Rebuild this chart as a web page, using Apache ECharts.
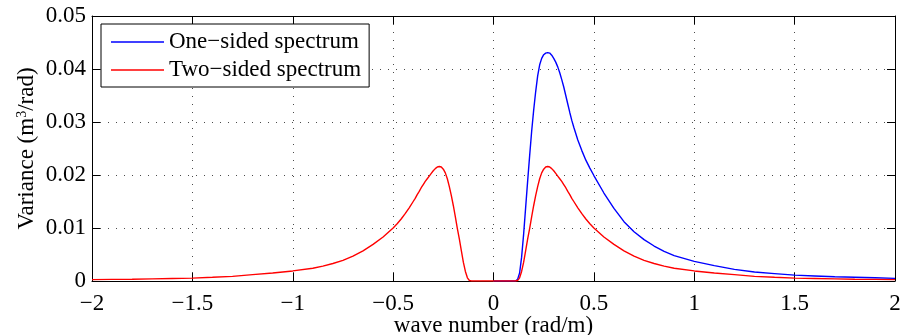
<!DOCTYPE html>
<html>
<head>
<meta charset="utf-8">
<script src="https://cdn.jsdelivr.net/npm/echarts@6/dist/echarts.min.js"></script>
<style>
  html, body { margin: 0; padding: 0; background: #fff; }
  #chart { width: 900px; height: 335px; }
</style>
</head>
<body>
<div id="chart"></div>
<script>
// Wave numbers (rad/m) for the positive half of the spectrum
const waveNumbers = [0, 0.05, 0.1,
  0.11, 0.12, 0.13, 0.14, 0.15, 0.16, 0.17, 0.18, 0.19, 0.2,
  0.21, 0.22, 0.23, 0.24, 0.25, 0.26, 0.27, 0.28, 0.29, 0.3,
  0.31, 0.32, 0.33, 0.34, 0.35, 0.36, 0.37, 0.38, 0.39, 0.4,
  0.42, 0.44, 0.46, 0.48, 0.5,
  0.55, 0.6, 0.65, 0.7, 0.75, 0.8, 0.85, 0.9,
  1.0, 1.1, 1.2, 1.3, 1.4, 1.5, 1.6, 1.7, 1.8, 1.9, 2.0];

// One-sided spectrum (m^3/rad), k >= 0
const oneSided = [0, 0, 0,
  0, 0.0003, 0.0015, 0.0045, 0.0088, 0.0138, 0.0188, 0.0236, 0.0282, 0.0322,
  0.0357, 0.0387, 0.0408, 0.0420, 0.0427, 0.0430, 0.0431, 0.0430, 0.0426, 0.0420,
  0.0413, 0.0404, 0.0393, 0.0380, 0.0366, 0.0350, 0.0334, 0.0318, 0.0303, 0.0290,
  0.0266, 0.0246, 0.0228, 0.0213, 0.0199,
  0.0166, 0.0137, 0.0112, 0.0093, 0.0078, 0.0066, 0.0056, 0.0048,
  0.0037, 0.0029, 0.0022, 0.0017, 0.0014, 0.0011, 0.00095, 0.0008, 0.0007, 0.0006, 0.0005];

// Two-sided spectrum (m^3/rad), symmetric in k; values listed for k >= 0
const twoSided = [0, 0, 0,
  0, 0.0001, 0.0006, 0.0018, 0.0035, 0.0057, 0.0079, 0.0099, 0.0121, 0.0142,
  0.0161, 0.0178, 0.0193, 0.0204, 0.0211, 0.0215, 0.0216, 0.0215, 0.0212, 0.0208,
  0.0203, 0.0198, 0.0193, 0.0188, 0.0182, 0.0176, 0.0169, 0.0163, 0.0156, 0.0150,
  0.0138, 0.0127, 0.0117, 0.0108, 0.0100,
  0.0083, 0.0069, 0.0057, 0.0047, 0.0039, 0.0033, 0.0028, 0.0024,
  0.0019, 0.0015, 0.0012, 0.00088, 0.0007, 0.00055, 0.00047, 0.0004, 0.00034, 0.0003, 0.00025];

const xTicks = { min: -2, max: 2, step: 0.5 };
const yTicks = { min: 0, max: 0.05, step: 0.01 };
const seriesNames = ['One\u2212sided spectrum', 'Two\u2212sided spectrum'];

const FONT = '"Liberation Serif", "Times New Roman", serif';
const FS = 23;

const oneSidedData = waveNumbers.map((k, i) => [k, oneSided[i]]);
const twoSidedData = [];
for (let i = waveNumbers.length - 1; i > 0; i--) twoSidedData.push([-waveNumbers[i], twoSided[i]]);
for (let i = 0; i < waveNumbers.length; i++) twoSidedData.push([waveNumbers[i], twoSided[i]]);

const fmtX = v => String(Number(v.toFixed(2))).replace('-', '\u2212');
const fmtY = v => String(Number(v.toFixed(3)));

const gridDots = { show: true, lineStyle: { color: '#4a4a4a', width: 1, type: [1, 7] } };
const boxLine = { show: true, onZero: false, lineStyle: { color: '#000', width: 1 } };
const inTick = { show: true, inside: true, length: 8, lineStyle: { color: '#000', width: 1 } };

const chart = echarts.init(document.getElementById('chart'), null, { renderer: 'canvas' });
chart.setOption({
  animation: false,
  backgroundColor: '#fff',
  grid: { left: 92, right: 5, top: 16, bottom: 54, containLabel: false, outerBoundsMode: 'none' },
  legend: {
    orient: 'vertical',
    left: 101, top: 24,
    padding: [6, 8, 5, 10],
    icon: 'rect',
    itemWidth: 53, itemHeight: 1.4, itemGap: 4,
    borderColor: '#000', borderWidth: 1,
    backgroundColor: '#fff',
    textStyle: { fontFamily: FONT, fontSize: FS, color: '#000', lineHeight: 24 },
    data: seriesNames
  },
  xAxis: [{
    type: 'value', min: xTicks.min, max: xTicks.max, interval: xTicks.step,
    name: 'wave number (rad/m)', nameLocation: 'middle', nameGap: 33, nameMoveOverlap: false,
    nameTextStyle: { fontFamily: FONT, fontSize: FS, color: '#000' },
    axisLine: boxLine, axisTick: inTick,
    axisLabel: { fontFamily: FONT, fontSize: FS, color: '#000', margin: 11, formatter: fmtX },
    splitLine: gridDots
  }, {
    type: 'value', position: 'top', min: xTicks.min, max: xTicks.max, interval: xTicks.step,
    axisLine: boxLine, axisTick: inTick, axisLabel: { show: false }, splitLine: { show: false }
  }],
  yAxis: [{
    type: 'value', min: yTicks.min, max: yTicks.max, interval: yTicks.step,
    name: 'Variance (m{sup|3}/rad)', nameLocation: 'middle', nameGap: 54, nameMoveOverlap: false,
    nameTextStyle: {
      fontFamily: FONT, fontSize: FS, color: '#000',
      rich: { sup: { fontFamily: FONT, fontSize: 14, color: '#000', verticalAlign: 'top', lineHeight: 22 } }
    },
    axisLine: boxLine, axisTick: inTick,
    axisLabel: { fontFamily: FONT, fontSize: FS, color: '#000', margin: 6, formatter: fmtY },
    splitLine: gridDots
  }, {
    type: 'value', position: 'right', min: yTicks.min, max: yTicks.max, interval: yTicks.step,
    axisLine: boxLine, axisTick: inTick, axisLabel: { show: false }, splitLine: { show: false }
  }],
  series: [{
    name: seriesNames[0], type: 'line', data: oneSidedData,
    symbol: 'none',
    lineStyle: { color: '#0000ff', width: 1.4 }, itemStyle: { color: '#0000ff' }
  }, {
    name: seriesNames[1], type: 'line', data: twoSidedData,
    symbol: 'none',
    lineStyle: { color: '#ff0000', width: 1.4 }, itemStyle: { color: '#ff0000' }
  }]
});
</script>
</body>
</html>
